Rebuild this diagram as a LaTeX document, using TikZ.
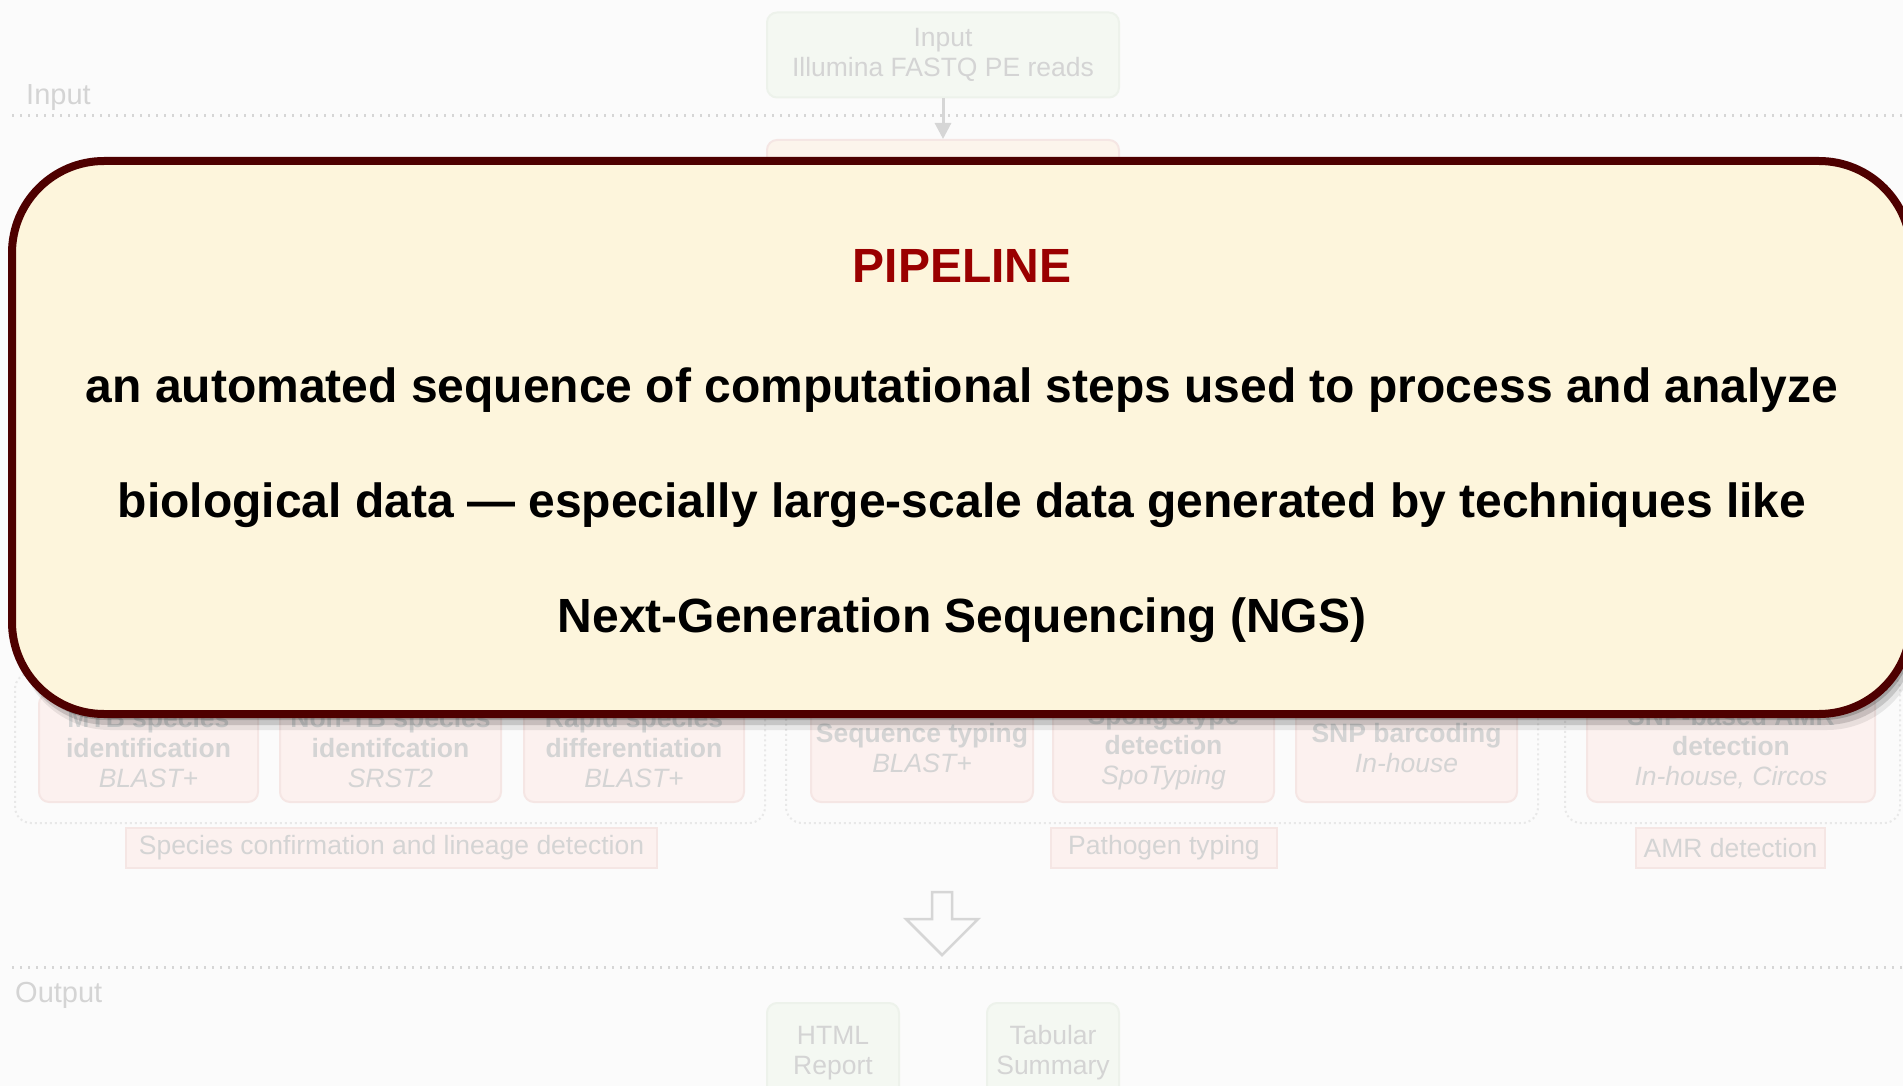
\documentclass[tikz,border=0pt]{standalone}
\usepackage{fontspec}
\setmainfont{Liberation Sans}
\usetikzlibrary{arrows.meta}
\definecolor{bgcol}{HTML}{FBFBFB}
\definecolor{fadetxt}{HTML}{D4D4D4}
\definecolor{fadeline}{HTML}{D6D6D6}
\definecolor{greenfill}{HTML}{F4F8F2}
\definecolor{greenedge}{HTML}{EDF2EB}
\definecolor{pinkfill}{HTML}{FCF1EF}
\definecolor{pinkedge}{HTML}{F5E6E4}
\definecolor{orangefill}{HTML}{FCF4EC}
\definecolor{groupedge}{HTML}{E8E8E8}
\definecolor{cardfill}{HTML}{FDF5DC}
\definecolor{cardedge}{HTML}{4E0000}
\definecolor{titlered}{HTML}{9A0000}
\tikzset{
  fadelabel/.style={text=fadetxt, font=\fontsize{29}{33}\selectfont, inner sep=0},
  dotline/.style={draw=fadeline, line width=3pt, dash pattern=on 2pt off 6pt},
  greenbox/.style={draw=greenedge, fill=greenfill, line width=2pt, rounded corners=10pt, text=fadetxt, align=center, font=\fontsize{26.5}{30}\selectfont, inner sep=0},
  orangebox/.style={draw=pinkedge, fill=orangefill, line width=2pt, rounded corners=10pt, inner sep=0},
  toolbox/.style={draw=pinkedge, fill=pinkfill, line width=2pt, rounded corners=10pt, text=fadetxt, align=center, font=\fontsize{26.5}{30}\selectfont\bfseries, inner sep=0, minimum height=108pt},
  groupbox/.style={draw=groupedge, line width=2pt, dash pattern=on 2pt off 3pt, rounded corners=16pt},
  tagbox/.style={draw=pinkedge, fill=pinkfill, line width=1.5pt, text=fadetxt, font=\fontsize{26.5}{30}\selectfont, inner sep=0, minimum height=40pt},
  fadearrow/.style={draw=fadeline, line width=3pt, -{Triangle[length=16pt,width=16pt]}},
  cardstyle/.style={draw=cardedge, fill=cardfill, line width=8pt, rounded corners=92pt, inner sep=0},
  cardtext/.style={anchor=base, inner sep=0, font=\fontsize{48}{56}\selectfont\bfseries}
}
\begin{document}
\begin{tikzpicture}[x=1pt,y=-1pt]
\useasboundingbox (0,0) rectangle (1903,1086);
\fill[bgcol] (0,0) rectangle (1903,1086);

% ---- faded background diagram ----
\node[fadelabel, anchor=base west] (inlab) at (26,105) {Input};
\draw[dotline] (12,116) -- (1903,116);
\node[greenbox, minimum width=352pt, minimum height=85pt] (inbox) at (943,55) {Input\\Illumina FASTQ PE reads};
\node[orangebox, minimum width=352pt, minimum height=80pt] (qcbox) at (943,180) {};
\draw[fadearrow] (inbox.south) -- (qcbox.north);

\node[groupbox, minimum width=750pt, minimum height=150pt] (grp1) at (390,748) {};
\node[groupbox, minimum width=752pt, minimum height=150pt] (grp2) at (1162,748) {};
\node[groupbox, minimum width=335pt, minimum height=150pt] (grp3) at (1732.5,748) {};

\node[toolbox, minimum width=219pt] (t1) at (148.5,748) {MTB species\\identification\\\mdseries\itshape BLAST+};
\node[toolbox, minimum width=221pt] (t2) at (390.5,748) {Non-TB species\\identifcation\\\mdseries\itshape SRST2};
\node[toolbox, minimum width=220pt] (t3) at (634,748) {Rapid species\\differentiation\\\mdseries\itshape BLAST+};
\node[toolbox, minimum width=222pt] (t4) at (922,748) {Sequence typing\\\mdseries\itshape BLAST+};
\node[toolbox, minimum width=221pt] (t5) at (1163.5,748) {Spoligotype\\detection\\\mdseries\itshape SpoTyping};
\node[toolbox, minimum width=221pt] (t6) at (1406.5,748) {SNP barcoding\\\mdseries\itshape In-house};
\node[toolbox, minimum width=288pt] (t7) at (1731,748) {SNP-based AMR\\detection\\\mdseries\itshape In-house, Circos};

\node[tagbox, minimum width=531pt] (tag1) at (391.5,848) {Species confirmation and lineage detection};
\node[tagbox, minimum width=226pt] (tag2) at (1164,848) {Pathogen typing};
\node[tagbox, minimum width=189pt] (tag3) at (1730.5,848) {AMR detection};

\draw[draw=fadeline, line width=2.5pt, line join=miter] (932,892) -- (952,892) -- (952,919) -- (978,919) -- (942,955) -- (906,919) -- (932,919) -- cycle;
\draw[dotline] (12,967) -- (1903,967);
\node[fadelabel, anchor=base west] (outlab) at (15,1002) {Output};
\node[greenbox, minimum width=132pt, minimum height=100pt] (html) at (833,1053) {HTML\\Report};
\node[greenbox, minimum width=132pt, minimum height=100pt] (tab) at (1053,1053) {Tabular\\Summary};

% ---- shadow of the card ----
\fill[black, opacity=0.18, rounded corners=92pt] (14,166) rectangle (1915,720);
\fill[black, opacity=0.14, rounded corners=92pt] (16,170) rectangle (1917,725);
\fill[black, opacity=0.08, rounded corners=92pt] (18,174) rectangle (1919,730);

% ---- card ----
\node[cardstyle, minimum width=1899pt, minimum height=553pt] (card) at (961.5,437.5) {};
\node[cardtext, text=titlered] (title) at (962,282) {PIPELINE};
\node[cardtext] (l1) at (962,402) {an automated sequence of computational steps used to process and analyze};
\node[cardtext] (l2) at (962,517) {biological data — especially large-scale data generated by techniques like};
\node[cardtext] (l3) at (962,632) {Next-Generation Sequencing (NGS)};
\end{tikzpicture}
\end{document}
